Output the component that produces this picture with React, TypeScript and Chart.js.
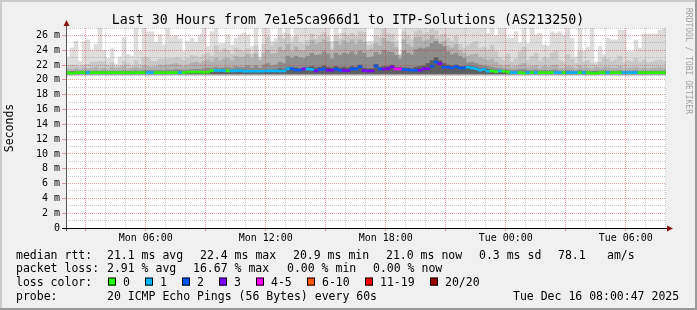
import React, { useEffect, useRef } from "react";
import { Chart, registerables } from "chart.js";

Chart.register(...registerables);

const FONT = '"DejaVu Sans Mono", monospace';
const TITLE = "Last 30 Hours from 7e1e5ca966d1 to ITP-Solutions (AS213250)";
const Y_TITLE = "Seconds";
const WATERMARK = "RRDTOOL / TOBI OETIKER";

// time axis: 150 columns of 12 minutes, Mon 02:00:47 -> Tue 08:00:47
const STEP_MINUTES = 12;
const COLUMN_COUNT = 150;
const START_HOUR = 2;
const START_MIN = 0;
const START_SEC = 47;
const DAY_NAMES = ["Mon", "Tue"];
const Y_MAX_MS = 27;

// smoke: upper edge of each grey layer (ms), lightest first
const smokeTop1 = [
  23.1, 24.3, 25.2, 22.5, 25.2, 25.4, 24.0, 24.8, 27.5, 24.0,
  22.9, 24.2, 22.1, 23.1, 25.7, 23.4, 23.2, 27.5, 23.9, 27.5,
  26.5, 26.5, 25.1, 26.1, 24.7, 26.9, 25.8, 26.0, 25.5, 23.8,
  25.2, 25.6, 25.1, 26.1, 27.5, 24.5, 26.5, 27.5, 24.9, 24.9,
  26.1, 24.7, 25.6, 26.1, 26.3, 26.1, 24.5, 27.5, 23.1, 27.5,
  27.5, 25.2, 25.6, 27.5, 26.3, 27.5, 25.7, 27.5, 27.5, 27.5,
  27.5, 27.5, 27.5, 27.5, 27.5, 27.5, 25.2, 27.5, 26.3, 27.5,
  27.5, 27.5, 27.5, 27.5, 27.5, 25.2, 25.2, 27.5, 27.5, 27.5,
  27.5, 27.5, 27.5, 23.5, 27.5, 27.5, 27.5, 27.5, 27.5, 27.5,
  27.5, 27.5, 27.5, 27.5, 27.5, 27.5, 27.5, 27.5, 27.5, 27.5,
  27.5, 27.5, 27.5, 27.5, 27.5, 26.3, 27.5, 26.0, 27.5, 27.5,
  25.7, 25.6, 26.5, 25.0, 27.5, 24.9, 27.5, 26.1, 26.3, 24.7,
  24.6, 26.5, 26.3, 26.5, 26.0, 27.5, 25.6, 23.1, 27.5, 23.9,
  24.4, 27.5, 22.4, 24.5, 23.4, 25.6, 25.4, 25.4, 26.7, 26.7,
  23.8, 23.8, 25.4, 24.3, 26.2, 26.2, 26.2, 26.2, 26.7, 26.9,
];
const smokeTop2 = [
  21.9, 22.0, 22.0, 21.8, 22.0, 22.1, 22.4, 22.4, 22.5, 22.4,
  22.0, 22.3, 21.8, 21.9, 22.5, 22.2, 21.9, 22.6, 22.1, 23.0,
  23.0, 22.5, 22.5, 22.8, 22.8, 22.9, 22.9, 23.0, 22.9, 22.6,
  22.9, 23.3, 23.2, 23.0, 23.4, 23.6, 23.2, 24.6, 23.8, 24.2,
  24.0, 23.5, 24.3, 24.0, 23.8, 24.2, 23.5, 24.6, 23.0, 24.8,
  25.8, 24.6, 25.0, 26.0, 25.5, 26.2, 25.0, 25.9, 25.0, 24.8,
  25.3, 26.2, 25.5, 25.9, 26.4, 25.8, 24.2, 26.0, 25.5, 26.3,
  26.0, 26.3, 25.8, 26.5, 26.4, 24.6, 24.8, 26.0, 25.8, 26.8,
  26.3, 26.1, 25.2, 23.3, 26.5, 26.0, 25.4, 26.5, 26.7, 26.2,
  26.4, 26.8, 26.6, 25.9, 26.2, 25.6, 25.2, 25.9, 24.8, 24.3,
  24.6, 24.9, 25.2, 24.2, 24.4, 24.0, 24.7, 23.8, 23.0, 22.6,
  23.5, 22.4, 22.8, 23.8, 24.4, 22.6, 23.2, 23.6, 22.5, 23.0,
  22.9, 23.6, 23.9, 22.6, 22.4, 23.4, 22.8, 22.2, 23.9, 22.4,
  22.6, 22.2, 22.0, 22.4, 22.9, 22.8, 22.5, 22.7, 23.2, 22.3,
  22.6, 22.5, 22.9, 22.4, 22.7, 22.3, 22.4, 22.6, 22.7, 22.5,
];
const smokeTop3 = [
  21.5, 21.4, 21.5, 21.4, 21.6, 21.5, 21.6, 21.7, 21.5, 21.6,
  21.4, 21.7, 21.5, 21.6, 21.8, 21.5, 21.6, 21.7, 21.6, 21.9,
  21.8, 21.7, 21.8, 22.0, 21.9, 22.0, 22.1, 22.2, 22.0, 21.8,
  22.0, 22.3, 22.4, 22.2, 22.5, 22.7, 22.4, 22.9, 22.6, 22.8,
  22.9, 22.6, 23.2, 23.0, 23.1, 23.4, 22.9, 23.5, 22.6, 23.6,
  24.0, 23.5, 23.6, 24.4, 24.0, 24.8, 23.8, 24.5, 24.0, 23.9,
  24.6, 25.3, 24.8, 25.0, 25.4, 25.1, 23.9, 25.2, 24.7, 25.3,
  25.0, 25.4, 24.8, 25.4, 25.1, 24.0, 24.2, 24.9, 24.6, 25.6,
  25.2, 25.0, 24.4, 23.3, 25.4, 24.8, 24.4, 25.7, 25.8, 25.2,
  25.4, 26.0, 25.5, 25.0, 25.2, 24.6, 24.3, 24.8, 24.0, 23.6,
  23.2, 23.4, 23.5, 23.0, 22.8, 22.6, 22.8, 22.4, 22.0, 21.8,
  22.0, 21.7, 21.8, 22.0, 22.2, 21.7, 21.8, 21.9, 21.6, 21.8,
  21.7, 21.9, 22.0, 21.6, 21.6, 21.8, 21.7, 21.5, 21.9, 21.6,
  21.6, 21.5, 21.7, 21.6, 21.7, 21.7, 21.6, 21.6, 21.8, 21.5,
  21.6, 21.6, 21.7, 21.5, 21.6, 21.5, 21.6, 21.6, 21.7, 21.6,
];
const smokeTop4 = [
  21.15, 21.15, 21.2, 21.15, 21.15, 21.2, 21.15, 21.2, 21.15, 21.2,
  21.15, 21.2, 21.15, 21.15, 21.25, 21.15, 21.2, 21.25, 21.2, 21.3,
  21.3, 21.25, 21.3, 21.3, 21.25, 21.35, 21.3, 21.4, 21.35, 21.3,
  21.35, 21.4, 21.45, 21.4, 21.5, 21.6, 21.55, 21.7, 21.6, 21.65,
  21.7, 21.6, 21.8, 21.7, 21.7, 21.9, 21.6, 21.9, 21.6, 22.0,
  22.2, 21.9, 22.0, 22.4, 22.2, 23.2, 22.9, 23.2, 23.0, 22.9,
  23.2, 23.6, 23.3, 23.4, 23.8, 23.5, 22.8, 23.6, 23.3, 23.6,
  23.5, 23.8, 23.4, 23.9, 23.6, 23.0, 23.1, 23.7, 23.4, 24.0,
  23.8, 23.7, 23.3, 22.8, 23.9, 23.6, 23.4, 24.1, 24.3, 24.2,
  24.4, 24.9, 25.2, 24.8, 24.5, 23.8, 23.4, 23.6, 23.2, 22.9,
  22.3, 22.4, 22.2, 22.0, 21.9, 21.8, 21.7, 21.6, 21.5, 21.4,
  21.4, 21.3, 21.35, 21.4, 21.45, 21.3, 21.3, 21.35, 21.25, 21.3,
  21.25, 21.3, 21.35, 21.2, 21.2, 21.3, 21.25, 21.2, 21.3, 21.2,
  21.2, 21.15, 21.2, 21.2, 21.25, 21.2, 21.2, 21.2, 21.25, 21.15,
  21.2, 21.2, 21.25, 21.15, 21.2, 21.15, 21.2, 21.2, 21.2, 21.2,
];
const smokeTop5 = [
  21.05, 21.05, 21.05, 21.05, 21.05, 21.05, 21.05, 21.05, 21.05, 21.05,
  21.05, 21.05, 21.05, 21.05, 21.05, 21.05, 21.05, 21.05, 21.05, 21.05,
  21.05, 21.05, 21.05, 21.05, 21.05, 21.05, 21.05, 21.05, 21.05, 21.05,
  21.1, 21.1, 21.1, 21.1, 21.1, 21.1, 21.2, 21.3, 21.3, 21.3,
  21.3, 21.3, 21.3, 21.35, 21.3, 21.3, 21.3, 21.3, 21.3, 21.3,
  21.3, 21.3, 21.35, 21.5, 21.4, 21.7, 21.6, 21.6, 21.5, 21.6,
  21.7, 21.8, 21.6, 21.7, 21.9, 21.7, 21.6, 21.8, 21.6, 21.7,
  21.6, 21.8, 21.7, 22.0, 21.6, 21.5, 21.5, 22.1, 21.7, 21.8,
  21.8, 22.0, 21.7, 21.7, 21.6, 21.6, 21.5, 21.7, 21.8, 21.9,
  22.2, 22.6, 23.0, 22.6, 22.2, 22.0, 21.9, 22.0, 21.8, 21.8,
  21.9, 21.8, 21.7, 21.5, 21.6, 21.4, 21.3, 21.2, 21.1, 21.05,
  21.05, 21.05, 21.05, 21.05, 21.05, 21.05, 21.05, 21.05, 21.05, 21.05,
  21.05, 21.05, 21.05, 21.05, 21.05, 21.05, 21.05, 21.05, 21.05, 21.05,
  21.05, 21.05, 21.05, 21.05, 21.05, 21.05, 21.05, 21.05, 21.05, 21.05,
  21.05, 21.05, 21.05, 21.05, 21.05, 21.05, 21.05, 21.05, 21.05, 21.05,
];
// lower edges of the grey layers (ms), lightest first
const smokeBottom = [20.55, 20.62, 20.7, 20.78, 20.85];

// median RTT per column (ms)
const medianRtt = [
  20.97, 20.88, 20.97, 20.97, 20.97, 20.97, 20.97, 20.97, 20.97, 20.97,
  20.97, 20.97, 20.97, 20.97, 20.97, 20.95, 20.97, 20.97, 20.97, 20.97,
  20.97, 20.97, 20.97, 20.97, 20.97, 20.97, 20.97, 20.97, 20.97, 20.97,
  21.05, 21.05, 21.05, 21.05, 21.0, 21.05, 21.24, 21.25, 21.25, 21.22,
  21.2, 21.2, 21.2, 21.25, 21.15, 21.17, 21.15, 21.17, 21.15, 21.17,
  21.2, 21.2, 21.2, 21.18, 21.2, 21.5, 21.5, 21.33, 21.33, 21.47,
  21.47, 21.4, 21.2, 21.4, 21.45, 21.3, 21.3, 21.45, 21.3, 21.25,
  21.25, 21.47, 21.47, 21.78, 21.25, 21.2, 21.2, 21.87, 21.47, 21.45,
  21.5, 21.74, 21.47, 21.47, 21.4, 21.35, 21.3, 21.3, 21.3, 21.5,
  21.5, 21.85, 22.4, 22.18, 21.7, 21.7, 21.6, 21.8, 21.6, 21.6,
  21.7, 21.6, 21.5, 21.3, 21.42, 21.15, 21.2, 21.1, 21.2, 21.15,
  21.05, 20.97, 20.97, 20.97, 20.9, 20.97, 20.97, 20.97, 20.97, 20.97,
  20.97, 20.97, 20.97, 20.97, 20.97, 20.97, 20.97, 20.97, 20.97, 20.97,
  20.97, 20.9, 20.9, 20.97, 20.97, 20.97, 20.97, 20.97, 20.97, 20.97,
  20.97, 20.97, 20.97, 20.97, 20.97, 20.97, 20.97, 20.97, 20.97, 20.97,
];
// lost pings (of 20) per column
const lossCount = [
  0, 0, 0, 0, 0, 1, 0, 0, 0, 0,
  0, 0, 0, 0, 0, 0, 0, 0, 0, 0,
  1, 1, 0, 0, 0, 0, 0, 0, 1, 0,
  0, 0, 0, 0, 0, 0, 0, 1, 1, 1,
  0, 1, 1, 1, 1, 1, 1, 1, 1, 1,
  1, 1, 1, 1, 1, 1, 2, 2, 2, 3,
  1, 1, 3, 2, 2, 3, 3, 2, 2, 3,
  3, 2, 2, 2, 3, 3, 3, 2, 2, 3,
  3, 3, 4, 4, 2, 2, 2, 2, 3, 3,
  3, 2, 2, 3, 2, 2, 2, 2, 2, 2,
  1, 1, 1, 1, 1, 1, 0, 0, 1, 0,
  0, 1, 1, 0, 0, 1, 0, 1, 0, 0,
  0, 0, 1, 1, 0, 1, 1, 1, 0, 1,
  0, 0, 0, 0, 0, 1, 0, 0, 0, 1,
  1, 1, 1, 0, 0, 0, 0, 0, 0, 0,
];

const LOSS_LABELS = ["0", "1", "2", "3", "4-5", "6-10", "11-19", "20/20"];
const LOSS_COLORS = ["#26ff00", "#00b8ff", "#0059ff", "#7e00ff", "#ff00ff", "#ff5500", "#ff0000", "#a10000"];
const SMOKE_COLORS = ["#dddddd", "#c9c9c9", "#b1b1b1", "#8e8e8e", "#5e5e5e"];

const RTT_STATS = ["21.1 ms avg", "22.4 ms max", "20.9 ms min", "21.0 ms now", "0.3 ms sd", "78.1", "am/s"];
const LOSS_STATS = ["2.91 % avg", "16.67 % max", "0.00 % min", "0.00 % now"];
const PROBE_TEXT = "20 ICMP Echo Pings (56 Bytes) every 60s";
const DATE_TEXT = "Tue Dec 16 08:00:47 2025";

function lossColor(n: number) {
  if (n <= 3) return LOSS_COLORS[n];
  if (n <= 5) return LOSS_COLORS[4];
  if (n <= 10) return LOSS_COLORS[5];
  if (n <= 19) return LOSS_COLORS[6];
  return LOSS_COLORS[7];
}

// hour ticks on the time axis
const firstHourOffsetMin = 60 - (START_MIN + START_SEC / 60);
const hourTicks: { value: number; hour: number; day: string }[] = [];
for (let h = 0; ; h++) {
  const value = (firstHourOffsetMin + 60 * h) / STEP_MINUTES;
  if (value > COLUMN_COUNT) break;
  const clock = START_HOUR + 1 + h;
  hourTicks.push({ value, hour: clock % 24, day: DAY_NAMES[Math.floor(clock / 24)] });
}
const pad2 = (n: number) => (n < 10 ? "0" + n : "" + n);

const RED_GRID = "rgba(200,40,40,0.45)";
const GRAY_GRID = "rgba(110,110,110,0.35)";

const frameAndTextPlugin = {
  id: "frameAndText",
  beforeDraw(chart: any) {
    const { ctx, width, height, chartArea } = chart;
    ctx.save();
    ctx.fillStyle = "#f0f0f0";
    ctx.fillRect(0, 0, width, height);
    ctx.fillStyle = "#cbcbcb";
    ctx.fillRect(0, 0, width, 2);
    ctx.fillRect(0, 0, 2, height);
    ctx.fillStyle = "#999999";
    ctx.fillRect(0, height - 2, width, 2);
    ctx.fillRect(width - 2, 0, 2, height);
    ctx.fillStyle = "#ffffff";
    ctx.fillRect(chartArea.left, chartArea.top, chartArea.right - chartArea.left, chartArea.bottom - chartArea.top);
    ctx.restore();
  },
  afterDraw(chart: any) {
    const { ctx, chartArea } = chart;
    const { left, right, top, bottom } = chartArea;
    ctx.save();
    // axes
    ctx.lineWidth = 1;
    ctx.strokeStyle = "#555555";
    ctx.beginPath();
    ctx.moveTo(left + 0.5, bottom + 3);
    ctx.lineTo(left + 0.5, top - 5);
    ctx.stroke();
    ctx.strokeStyle = "#000000";
    ctx.beginPath();
    ctx.moveTo(left - 4, bottom + 0.5);
    ctx.lineTo(right + 1, bottom + 0.5);
    ctx.stroke();
    ctx.fillStyle = "#8b1010";
    ctx.beginPath();
    ctx.moveTo(left + 0.5, top - 8);
    ctx.lineTo(left - 2.5, top - 2);
    ctx.lineTo(left + 3.5, top - 2);
    ctx.closePath();
    ctx.fill();
    ctx.beginPath();
    ctx.moveTo(right + 7, bottom + 0.5);
    ctx.lineTo(right + 1, bottom - 2.5);
    ctx.lineTo(right + 1, bottom + 3.5);
    ctx.closePath();
    ctx.fill();

    // title
    ctx.fillStyle = "#000";
    ctx.font = `13.3px ${FONT}`;
    ctx.textAlign = "center";
    ctx.textBaseline = "alphabetic";
    ctx.fillText(TITLE, 348, 23.5);

    // y title
    ctx.save();
    ctx.translate(10.5, (top + bottom) / 2);
    ctx.rotate(-Math.PI / 2);
    ctx.font = `11.5px ${FONT}`;
    ctx.textBaseline = "middle";
    ctx.fillText(Y_TITLE, 0, 0);
    ctx.restore();

    // watermark
    ctx.save();
    ctx.translate(688.5, 8);
    ctx.rotate(Math.PI / 2);
    ctx.font = `8px ${FONT}`;
    ctx.fillStyle = "#a0a0a0";
    ctx.textAlign = "left";
    ctx.textBaseline = "middle";
    ctx.fillText(WATERMARK, 0, 0);
    ctx.restore();

    // legend
    ctx.font = `11.5px ${FONT}`;
    ctx.fillStyle = "#000";
    ctx.textAlign = "left";
    ctx.textBaseline = "alphabetic";
    const rows = [258.5, 272.3, 286.1, 299.9];
    ctx.fillText("median rtt:", 16, rows[0]);
    const rttX = [107, 200, 293, 386, 479, 558, 607];
    RTT_STATS.forEach((t, i) => ctx.fillText(t, rttX[i], rows[0]));
    ctx.fillText("packet loss:", 16, rows[1]);
    const lossX = [107, 193, 287, 373];
    LOSS_STATS.forEach((t, i) => ctx.fillText(t, lossX[i], rows[1]));
    ctx.fillText("loss color:", 16, rows[2]);
    const boxX = [108, 145, 182, 219, 256, 307, 365, 430];
    LOSS_LABELS.forEach((t, i) => {
      ctx.fillStyle = LOSS_COLORS[i];
      ctx.fillRect(boxX[i], rows[2] - 8.5, 8, 8);
      ctx.strokeStyle = "#000";
      ctx.strokeRect(boxX[i] + 0.5, rows[2] - 8, 7, 7);
      ctx.fillStyle = "#000";
      ctx.fillText(t, boxX[i] + 15, rows[2]);
    });
    ctx.fillText("probe:", 16, rows[3]);
    ctx.fillText(PROBE_TEXT, 107, rows[3]);
    ctx.fillText(DATE_TEXT, 513, rows[3]);
    ctx.restore();
  },
};

function buildConfig(): any {
  const tops = [smokeTop1, smokeTop2, smokeTop3, smokeTop4, smokeTop5];
  const smokeSets = tops.map((arr, layer) => ({
    type: "bar",
    label: "smoke" + layer,
    data: arr.map((v, i) => ({ x: i + 0.5, y: [smokeBottom[layer], v] })),
    backgroundColor: SMOKE_COLORS[layer],
    borderWidth: 0,
    barPercentage: 1,
    categoryPercentage: 1,
    grouped: false,
  }));
  const medianSet = {
    type: "bar",
    label: "median",
    data: medianRtt.map((v, i) => ({ x: i + 0.5, y: [v - 0.135, v + 0.135] })),
    backgroundColor: lossCount.map((n) => lossColor(n)),
    borderWidth: 0,
    barPercentage: 1,
    categoryPercentage: 1,
    grouped: false,
  };
  // index 0 is drawn last (on top)
  const datasets = [medianSet, ...smokeSets.slice().reverse()];

  return {
    type: "bar",
    data: { datasets },
    plugins: [frameAndTextPlugin],
    options: {
      animation: false,
      responsive: false,
      maintainAspectRatio: false,
      events: [],
      layout: { padding: { left: 0, right: 31, top: 28, bottom: 0 } },
      plugins: { legend: { display: false }, title: { display: false }, tooltip: { enabled: false } },
      scales: {
        x: {
          type: "linear",
          min: 0,
          max: COLUMN_COUNT,
          offset: false,
          afterBuildTicks: (scale: any) => {
            scale.ticks = hourTicks.map((t) => ({ value: t.value }));
          },
          afterFit: (scale: any) => {
            scale.height = 82;
          },
          grid: {
            offset: false,
            z: 1,
            lineWidth: 1,
            color: (c: any) => (hourTicks[c.index] && hourTicks[c.index].hour % 3 === 0 ? RED_GRID : GRAY_GRID),
            tickColor: (c: any) => (hourTicks[c.index] && hourTicks[c.index].hour % 3 === 0 ? RED_GRID : "rgba(0,0,0,0)"),
            tickLength: 3,
          },
          border: { display: false, dash: [1, 1] },
          ticks: {
            autoSkip: false,
            maxRotation: 0,
            minRotation: 0,
            padding: 1,
            color: "#000",
            font: { family: FONT, size: 10 },
            callback: (_v: any, i: number) => {
              const t = hourTicks[i];
              return t && t.hour % 6 === 0 ? `${t.day} ${pad2(t.hour)}:00` : "";
            },
          },
        },
        y: {
          type: "linear",
          min: 0,
          max: Y_MAX_MS,
          afterFit: (scale: any) => {
            scale.width = 66;
          },
          grid: {
            z: 1,
            lineWidth: 1,
            color: (c: any) => (c.tick && c.tick.value % 2 === 0 ? RED_GRID : GRAY_GRID),
            tickColor: (c: any) => (c.tick && c.tick.value % 2 === 0 ? RED_GRID : "rgba(0,0,0,0)"),
            tickLength: 4,
          },
          border: { display: false, dash: [1, 1] },
          ticks: {
            stepSize: 1,
            autoSkip: false,
            padding: 2,
            color: "#000",
            font: { family: FONT, size: 10 },
            callback: (v: any) => (v % 2 === 0 ? (v === 0 ? "0" : `${v} m`) : ""),
          },
        },
      },
    },
  };
}

export default function App() {
  const ref = useRef<HTMLCanvasElement>(null);
  useEffect(() => {
    document.body.style.margin = "0";
    const chart = new Chart(ref.current as HTMLCanvasElement, buildConfig());
    return () => chart.destroy();
  }, []);
  return (
    <div style={{ width: 697, height: 310 }}>
      <canvas ref={ref} width={697} height={310} style={{ display: "block", width: 697, height: 310 }} />
    </div>
  );
}
